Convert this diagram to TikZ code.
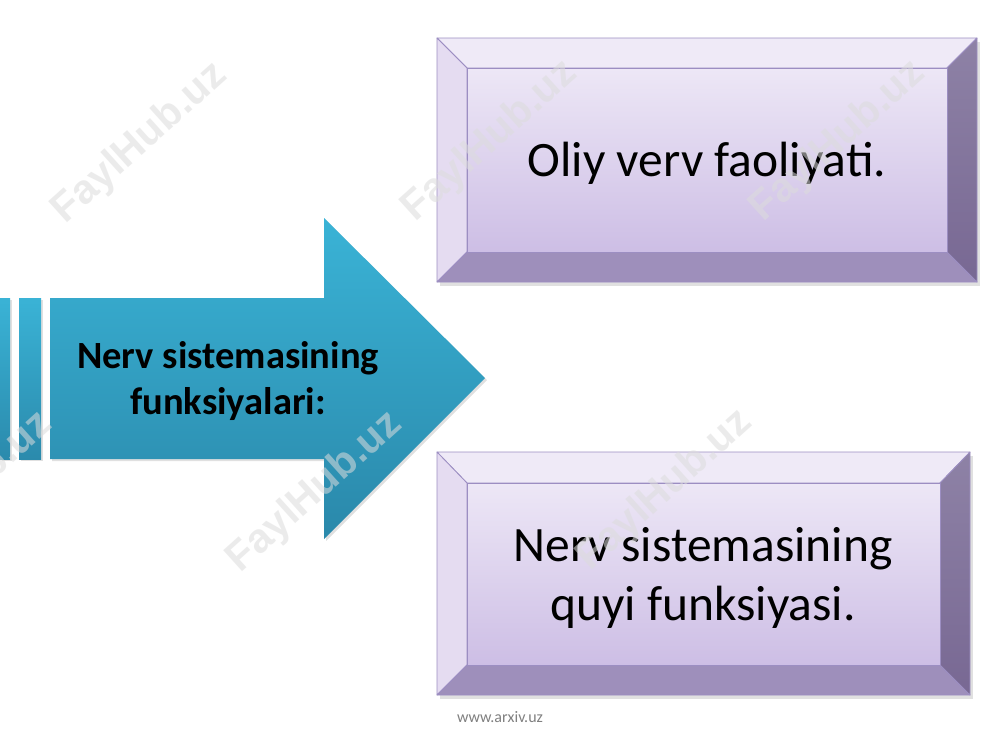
\documentclass[tikz,border=0pt]{standalone}
\usepackage{fontspec}
\setmainfont{Carlito}
\newfontfamily\wmfont{Liberation Sans}
\begin{document}
\begin{tikzpicture}[x=1pt,y=-1pt,
  bevtop/.style={fill=bevTop,draw=bevLine,line width=0.8pt,line join=round},
  bevleft/.style={fill=bevLeft,draw=bevLine,line width=0.8pt,line join=round},
  bevbot/.style={fill=bevBot,draw=bevLine,line width=0.8pt,line join=round},
  bevright/.style={top color=bevRightT,bottom color=bevRightB,draw=bevLine,line width=0.8pt,line join=round},
  bevface/.style={top color=faceT,bottom color=faceB,draw=bevLine,line width=0.8pt},
  boxtext/.style={font=\fontsize{49.5}{59}\selectfont,align=center,text=black,inner sep=0pt},
  arrowtext/.style={font=\fontsize{38.5}{46}\selectfont\bfseries,align=center,text=black,inner sep=0pt},
  wm/.style={font=\wmfont\bfseries\fontsize{41}{41}\selectfont,text=wmGray,opacity=0.55,rotate=42,inner sep=0pt},
  arrowfill/.style={top color=arrT,bottom color=arrB,draw=none},
  shadow/.style={fill=black,opacity=0.12}
]
\definecolor{bevTop}{HTML}{EFEAF7}
\definecolor{bevLeft}{HTML}{E5DCF1}
\definecolor{bevBot}{HTML}{9E8FBB}
\definecolor{bevRightT}{HTML}{8E82A6}
\definecolor{bevRightB}{HTML}{786893}
\definecolor{bevLine}{HTML}{9C8EC2}
\definecolor{faceT}{HTML}{EDE7F6}
\definecolor{faceB}{HTML}{CDBEE5}
\definecolor{arrT}{HTML}{3AB3D6}
\definecolor{arrB}{HTML}{2A88AA}
\definecolor{wmGray}{HTML}{DCDCDC}
\definecolor{footGray}{HTML}{808080}

\useasboundingbox (0,0) rectangle (1000,750);
\fill[white] (0,0) rectangle (1000,750);

% ---------- arrow ----------
\fill[shadow] (2,300) rectangle (12,461);
\fill[shadow] (21,300) rectangle (43,461);
\fill[shadow] (52,300) -- (326,300) -- (326,220) -- (487,380) -- (326,541) -- (326,461) -- (52,461) -- cycle;
\shade[top color=arrT,bottom color=arrB!95!arrT] (0,298) rectangle (10,459);
\shade[top color=arrT,bottom color=arrB!95!arrT] (19,298) rectangle (41,459);
\shade[arrowfill] (50,298) -- (324,298) -- (324,218) -- (485,378) -- (324,539) -- (324,459) -- (50,459) -- cycle;
\node[arrowtext] (arrtext) at (228,381) {Nerv sistemasining\\funksiyalari:};

% ---------- top box ----------
\fill[shadow] (440,42) rectangle (980,286);
\path[bevtop] (437,38) -- (977,38) -- (947,68) -- (467,68) -- cycle;
\path[bevleft] (437,38) -- (467,68) -- (467,252) -- (437,282) -- cycle;
\path[bevbot] (437,282) -- (467,252) -- (947,252) -- (977,282) -- cycle;
\path[bevright] (977,38) -- (977,282) -- (947,252) -- (947,68) -- cycle;
\path[bevface] (467,68) rectangle (947,252);
\node[boxtext] (top) at (707,163) {Oliy verv faoliyati.};

% ---------- bottom box ----------
\fill[shadow] (440,456) rectangle (973,699);
\path[bevtop] (437,452) -- (970,452) -- (940,483) -- (467,483) -- cycle;
\path[bevleft] (437,452) -- (467,483) -- (467,665) -- (437,695) -- cycle;
\path[bevbot] (437,695) -- (467,665) -- (940,665) -- (970,695) -- cycle;
\path[bevright] (970,452) -- (970,695) -- (940,665) -- (940,483) -- cycle;
\path[bevface] (467,483) rectangle (940,665);
\node[boxtext] (bot) at (703,578) {Nerv sistemasining\\quyi funksiyasi.};

% ---------- footer ----------
\node[font=\fontsize{16}{16}\selectfont,text=footGray] (foot) at (500,717) {www.arxiv.uz};

% ---------- watermarks ----------
\node[wm] (w1) at (140,143) {FaylHub.uz};
\node[wm] (w2) at (490,141) {FaylHub.uz};
\node[wm] (w3) at (838,141) {FaylHub.uz};
\node[wm] (w4) at (315,492) {FaylHub.uz};
\node[wm] (w5) at (665,490) {FaylHub.uz};
\node[wm] (w6) at (-35,492) {FaylHub.uz};
\end{tikzpicture}
\end{document}
